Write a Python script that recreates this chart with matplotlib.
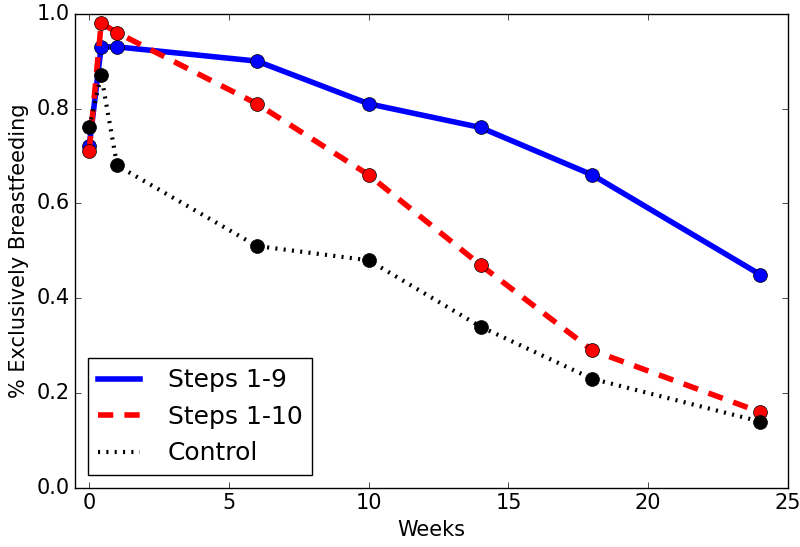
import matplotlib
matplotlib.use("Agg")
import matplotlib.pyplot as plt

plt.style.use('classic')

weeks = [0, 0.43, 1, 6, 10, 14, 18, 24]
steps_1_9 = [0.72, 0.93, 0.93, 0.90, 0.81, 0.76, 0.66, 0.45]
steps_1_10 = [0.71, 0.98, 0.96, 0.81, 0.66, 0.47, 0.29, 0.16]
control = [0.76, 0.87, 0.68, 0.51, 0.48, 0.34, 0.23, 0.14]

fig, ax = plt.subplots(figsize=(8, 5.47), dpi=100)
fig.patch.set_facecolor('white')

ax.plot(weeks, steps_1_9, color='b', linestyle='-', linewidth=4,
        marker='o', markersize=10, markerfacecolor='b', markeredgecolor='k',
        label='Steps 1-9')
ax.plot(weeks, steps_1_10, color='r', linestyle='--', dashes=(11, 8), linewidth=4,
        marker='o', markersize=10, markerfacecolor='r', markeredgecolor='k',
        label='Steps 1-10')
ax.plot(weeks, control, color='k', linestyle=':', dashes=(1.5, 4.5), linewidth=3,
        marker='o', markersize=10, markerfacecolor='k', markeredgecolor='k',
        label='Control')

ax.set_xlim(-0.5, 25)
ax.set_ylim(0, 1.0)
ax.set_xlabel('Weeks', fontsize=15)
ax.set_ylabel('% Exclusively Breastfeeding', fontsize=15)
ax.tick_params(labelsize=15)

leg = ax.legend(loc='lower left', fontsize=18, numpoints=1, handlelength=1.7,
                handletextpad=1.1, borderaxespad=0.5)
for h in leg.legend_handles:
    h.set_marker('')

fig.subplots_adjust(left=0.094, right=0.985, top=0.975, bottom=0.108)
fig.savefig('out.png', dpi=100, facecolor='white')
